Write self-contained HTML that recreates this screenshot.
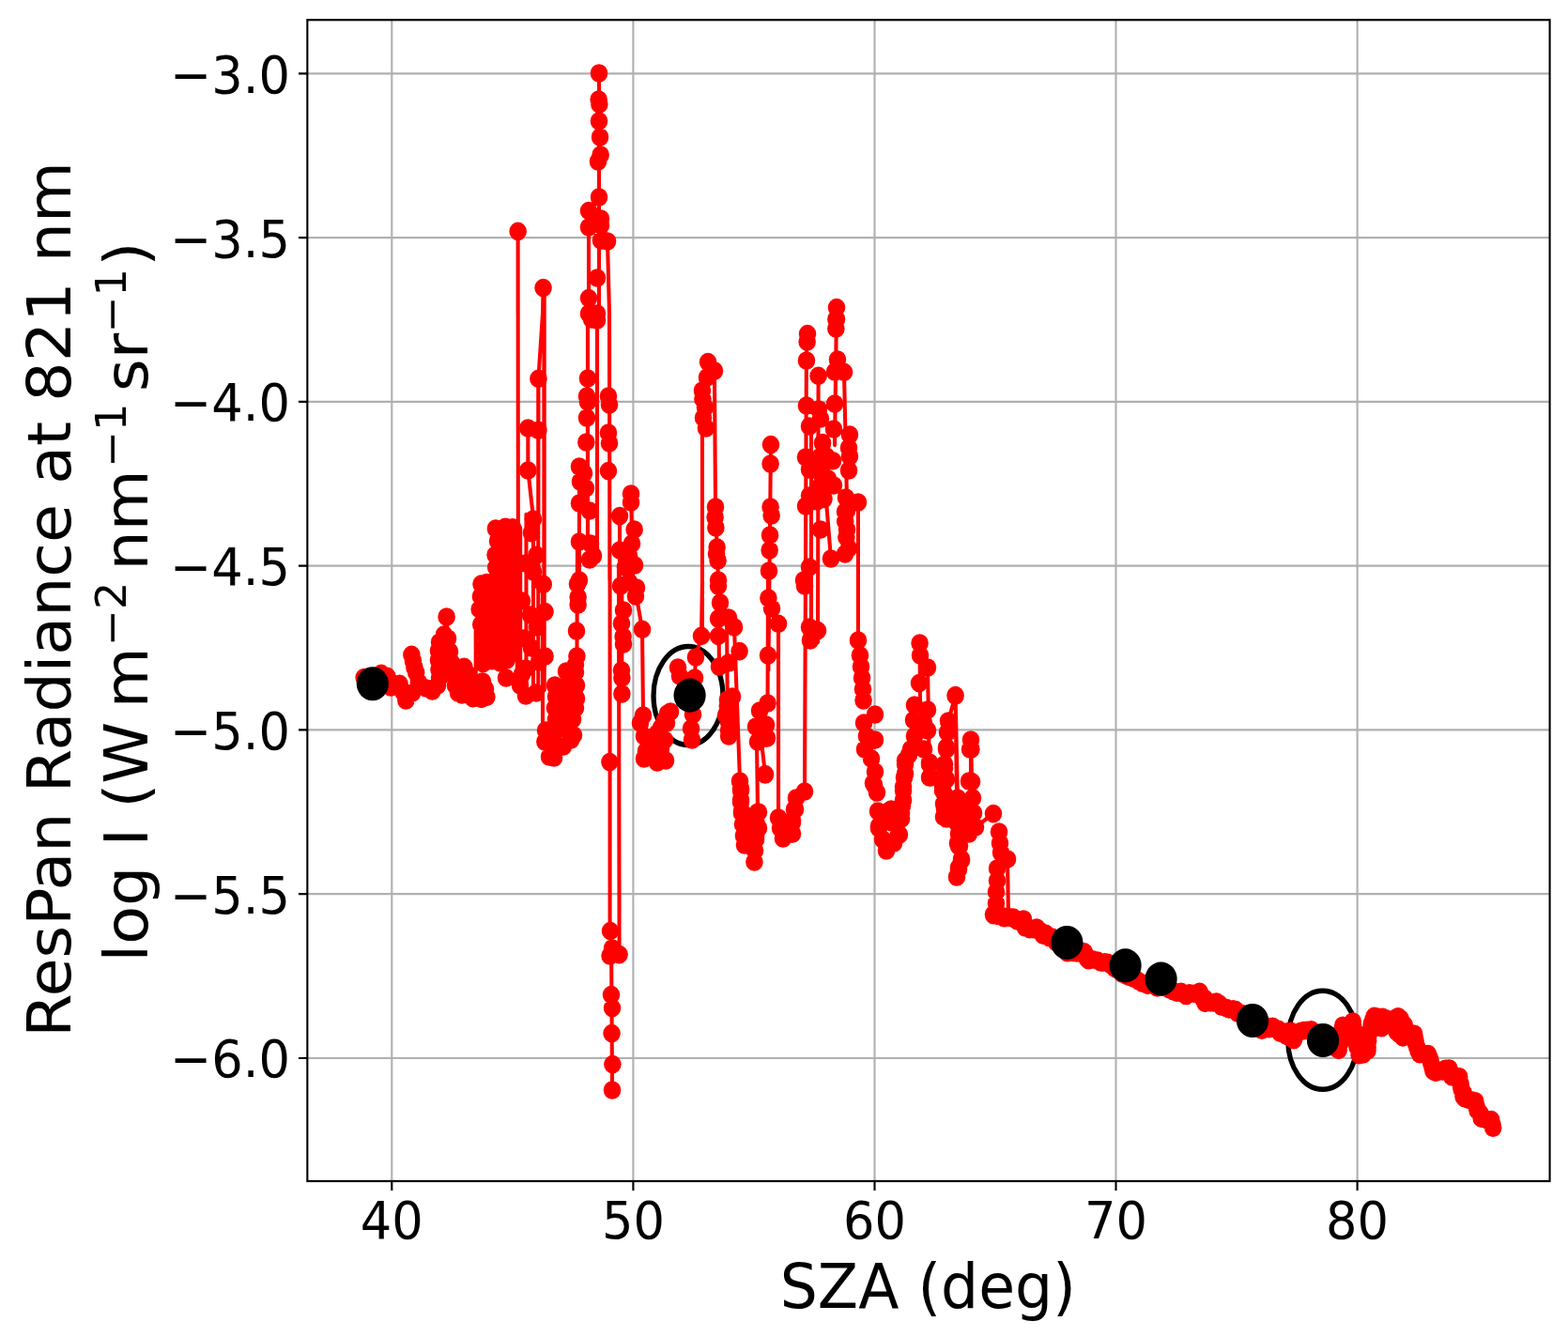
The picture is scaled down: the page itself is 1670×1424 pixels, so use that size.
<!DOCTYPE html>
<html lang="en"><head><meta charset="utf-8"><title>ResPan Radiance at 821 nm vs SZA</title>
<style>html,body{margin:0;padding:0;background:#fff;overflow:hidden}svg{display:block}</style></head>
<body>
<svg width="1670" height="1424" viewBox="0 0 1670 1424">
<rect width="1670" height="1424" fill="#fff"/>
<g transform="scale(0.948 1)">
<path d="M440.2 21.2V1258M711.4 21.2V1258M982.6 21.2V1258M1253.7 21.2V1258M1524.9 21.2V1258M345.3 78.3H1741M345.3 253.1H1741M345.3 427.9H1741M345.3 602.6H1741M345.3 777.4H1741M345.3 952.2H1741M345.3 1127H1741" stroke="#b0b0b0" stroke-width="2.22" fill="none"/>
<clipPath id="c"><rect x="345.3" y="21.2" width="1395.8" height="1236.8"/></clipPath>
<g clip-path="url(#c)">
<ellipse cx="773.2" cy="741" rx="39" ry="52.5" fill="none" stroke="#000" stroke-width="5.56"/>
<ellipse cx="1486" cy="1107.7" rx="39" ry="52.5" fill="none" stroke="#000" stroke-width="5.56"/>
<path d="M408.9 721.6L417.7 722L428.3 717.4L435 720.4L439.2 732L448.9 728.4L453.6 738L456.1 746L463.1 738L462.4 697.4L464.1 704L465.6 710.8L467.5 716.4L470.5 727L478.9 733L485.7 736L491.6 730L493.7 684L495.8 692L497.9 702L498.9 676L501.7 657L503.2 680L505.3 694L507.4 706L509.5 718L511.6 730L514.8 738L519 740L521.5 710.4L525.3 718L527.4 730L531.2 743.6L541.1 744.4L546.8 742.4M534.5 672L534.5 728M581 560L581 735M584.6 562L584.6 735M591.2 548L591.2 730M599.1 553L599.1 730M604.7 403L604.7 730M611.5 300L611.5 735M609.7 618L609.7 778M648.7 578L648.1 718M698.7 618L698.7 739M715.2 636L721.5 670.4L722.6 762M581.9 246.4L582.1 560M609.7 334L604.9 403.4L604.9 554M611.2 334L611.2 618M593.2 456L593.2 501L599.2 552M660.3 334L660.3 594M670.9 334L670.9 594M684.6 334L685 618M650.8 497L650.8 618M708.9 526L711 618M696.2 549.6L696.2 618M581.9 246.4L581.9 334M610.3 306.6L609.7 334M673 78L673 334M661.4 224.6L661.4 334M682.5 257L684.6 334M685.2 602L685.2 991.6M695.1 602L695.8 1016.6M686.7 991.6L687.8 1161M789 454L789 678M802.7 395L803.8 540M803.8 540L807 618M866 473.6L863.3 714M906.1 355.6L904 844M919.4 400.4L918.8 684M939.9 327.6L937.8 474M948.3 396.4L951.5 534M928.3 534L933.5 595M964.1 535L964.1 682M911.4 454L911.4 674M789 618L788 677.4L781.6 700L780.6 722M824.9 668L831.2 830M816.5 658L817.5 778M807 618L808 710M862.9 618L862.4 749M874.5 664.4L874.5 870M850.2 790L851.3 865M856.5 798L859.7 825M1033.3 685L1033.8 758M1042.2 711L1044.3 828M1065.4 768L1073.4 740.6L1075.9 852M1090.7 788L1090.7 832M1065.4 768L1073.4 741L1074.9 846M1091.1 798L1091.8 832.6M1096 881L1116 866.6M1131.9 915L1132.9 976M1117.1 974L1128.7 976L1137.1 977L1149.8 984L1164.6 992L1181.4 998L1202.5 1016L1215.2 1012L1223.6 1022L1232.1 1024L1244.7 1026L1272.2 1042L1282.7 1047L1318.6 1054L1333.3 1060L1348.1 1058L1354.4 1068L1367.1 1067L1373.4 1073L1388.2 1076L1417.7 1096L1432.5 1094L1438.8 1100L1449.4 1100M1417.7 1094L1432.5 1096L1440.9 1100L1453.6 1108L1457.8 1100L1472.6 1097L1504.2 1118L1508.4 1092L1512.7 1102L1520 1088L1523.2 1108L1527.4 1124L1535.9 1120L1538 1104L1541.1 1090L1544.3 1082L1557 1084L1552.7 1094L1570.7 1083L1578.1 1092L1569.6 1100L1575.9 1104L1588.6 1100L1590.7 1112L1594.9 1122L1604.4 1122L1607.6 1132L1609.7 1140L1612.9 1142L1627.6 1138L1630.8 1146L1639.2 1148L1641.4 1158L1645.6 1170L1657.2 1172L1660.3 1182L1664.6 1190L1675.1 1193L1677.2 1202" stroke="#f00" stroke-width="4.3" fill="none" stroke-linejoin="round" stroke-linecap="round"/>
<path d="M408.9 721.6h0M417.7 722h0M428.3 717.4h0M435 720.4h0M439.2 732h0M448.9 728.4h0M453.6 738h0M456.1 746h0M463.1 738h0M462.4 697.4h0M464.1 704h0M465.6 710.8h0M467.5 716.4h0M470.5 727h0M478.9 733h0M485.7 736h0M491.6 730h0M493.7 684h0M495.8 692h0M497.9 702h0M498.9 676h0M501.7 657h0M503.2 680h0M505.3 694h0M507.4 706h0M509.5 718h0M511.6 730h0M514.8 738h0M519 740h0M521.5 710.4h0M525.3 718h0M527.4 730h0M531.2 743.6h0M541.1 744.4h0M546.8 742.4h0M556.9 563h0M567.8 561.3h0M575.9 561.8h0M563 570.1h0M570.2 567.8h0M559.1 576.2h0M567.8 575h0M575.8 577.1h0M561.6 585h0M572.7 582.3h0M556.5 591h0M568.4 590.5h0M575.1 590.7h0M561 597.3h0M571.3 598.1h0M557.2 604.5h0M566.1 605.2h0M575.3 603.9h0M563.6 612.7h0M571.9 611.6h0M540.6 622.1h0M546.8 620.5h0M557.7 621.6h0M567.3 620.8h0M575.9 621.5h0M542.9 628.5h0M553.7 629.3h0M561.5 628.5h0M568.9 627.5h0M540 635.2h0M547 635.6h0M557.6 636h0M565.5 635.3h0M574.9 636.3h0M543.6 642.4h0M552.4 641.3h0M560 643.3h0M571.9 643h0M538.7 648.9h0M548 651.3h0M557.8 650h0M567.1 649.1h0M574.9 651.3h0M543.8 657h0M551.7 657.3h0M562.9 655.6h0M571.3 658.1h0M540.3 665.1h0M549 664.4h0M557.2 664.1h0M564.5 665.5h0M575.1 663.4h0M543.5 671.5h0M552 671.1h0M561.6 671.9h0M570.8 671.4h0M542.3 674.9h0M551.9 676.3h0M563.8 677.2h0M572.5 677.3h0M547.8 684.6h0M558.5 681.6h0M564.7 681.3h0M576.8 682.2h0M542.7 690.9h0M552.6 688.7h0M560.8 690.6h0M569.8 689.5h0M549.7 697.5h0M557 697.6h0M564.7 697.2h0M575.4 696.4h0M542.7 706.5h0M553.3 703.7h0M562.7 706.2h0M569.2 703h0M599.1 553h0M597 567.6h0M602.8 591.3h0M599.2 609h0M610.5 622.4h0M612.4 651.6h0M612.4 699h0M590.7 600h0M586.5 640h0M596 655h0M603.4 668h0M588.6 680h0M597 690h0M605.5 705h0M590.7 712h0M492.6 693h0M492.6 703h0M493.1 713h0M493.7 722h0M500 686h0M502.1 698h0M504.2 708h0M506.3 716h0M568.6 722h0M590.7 741h0M602.3 738h0M584.4 730h0M586.5 718h0M542.2 726h0M545.4 734h0M612.9 778h0M612.2 790h0M617.1 806h0M622.4 807h0M632.9 795h0M641.4 788h0M644.5 783h0M624.5 778h0M632.9 776h0M622.4 792h0M623.4 730h0M624.5 742h0M623.4 754h0M636.1 715h0M637.1 730h0M639.2 746h0M632.9 758h0M646.6 716h0M647.7 730h0M647.7 744h0M646.6 754h0M643.5 766h0M635 770h0M624.5 766h0M648.7 622h0M649.4 636h0M649.4 644h0M647.7 672h0M648.1 699h0M646.6 708h0M685 811.6h0M697.3 624h0M700.4 650h0M698.3 664h0M700 678h0M700.4 686h0M698.3 714h0M698.7 722h0M698.7 739h0M706.8 620h0M715.2 626h0M714.1 635h0M721.5 670.4h0M722.6 762h0M719.4 770h0M723.6 784h0M725.7 800h0M723.6 808h0M736.3 784h0M738.4 812h0M732.1 794h0M604.9 403.4h0M593.2 456h0M604.9 458.4h0M593.2 501h0M664.6 340h0M670.9 341h0M660.3 403h0M659.3 422h0M660.3 428h0M659.3 445h0M658.6 471h0M650.8 497h0M656.1 504h0M651.9 513h0M658.2 520h0M650.8 536h0M662.4 544h0M650.8 577h0M663.5 579h0M666.7 592h0M662.4 596h0M650.8 618h0M683.5 422h0M684.6 431h0M683.5 461h0M684.6 472h0M683.5 501.6h0M708.9 526h0M708.9 535h0M696.2 549.6h0M712.7 564h0M709.9 579h0M696.2 586h0M706.8 592h0M713.1 602h0M702.5 604h0M673 78h0M672.6 106h0M673.4 111h0M673 129h0M674.1 146h0M674.7 165h0M671.9 172h0M673 210h0M661.4 224.6h0M675.1 233h0M661.4 242h0M675.1 240h0M675.1 256h0M682.5 257h0M670.9 296h0M661.4 317.6h0M661.4 334h0M670.9 334h0M581.9 246.4h0M610.3 306.6h0M685.7 991.6h0M687.8 1010h0M685.2 1018h0M695.8 1016.6h0M686.7 1059.6h0M687.8 1073.6h0M687.3 1100.6h0M688.2 1133.6h0M687.8 1161h0M795.4 385.6h0M802.7 395h0M794.3 402h0M789 416h0M789.5 425h0M792.2 434h0M790.1 445h0M793.2 456h0M803.8 540h0M803.4 551h0M804.2 562h0M805.5 583h0M804.9 590h0M806.5 597h0M807 618h0M866 473.6h0M865.6 494h0M865.6 540h0M866.7 549h0M865 570h0M864.6 586h0M863.9 608h0M907.2 355.6h0M906.8 364h0M906.1 384h0M919.4 400.4h0M939.2 340h0M939.2 350h0M940.9 383h0M937.8 396h0M948.3 396.4h0M906.1 432h0M909.3 454h0M919.8 436h0M921.9 446h0M937.8 430h0M936.7 457h0M954.6 463h0M924.1 472h0M953.6 477h0M905.1 487h0M954.6 486h0M921.9 486h0M932.5 490h0M909.3 500h0M921.9 504h0M953.6 501h0M932.5 516h0M921.9 518h0M909.3 528h0M905.1 539h0M917.7 534h0M950.4 530h0M964.1 535h0M951.5 544h0M921.9 564h0M951.5 564h0M953.6 584h0M933.5 595h0M949.4 590h0M909.3 604h0M903 618h0M939.9 327.6h0M939.9 340h0M761.6 711h0M781.6 700h0M788 677.4h0M763.7 720h0M780.6 722h0M753.2 758h0M748.9 770h0M746.8 788h0M747.9 810h0M778.5 761h0M776.4 776h0M777.4 788h0M742.6 798h0M807 624h0M809.1 642h0M807 659h0M818.6 658h0M824.9 668h0M807 677.4h0M830.8 693.6h0M808 710h0M818.6 706h0M817.5 746h0M815.4 762h0M818.6 778h0M822.8 742h0M831.2 832h0M832.3 840h0M832.3 852h0M833.3 864h0M835.4 876h0M837.6 888h0M839.7 898h0M852.3 865h0M850.2 878h0M849.2 890h0M846 898h0M863.3 637h0M867.1 648h0M874.5 664.4h0M862.9 698h0M862.4 749h0M853.4 757h0M849.2 774h0M860.8 772h0M851.3 790h0M861.8 786h0M859.7 825h0M874.5 871h0M877.6 882h0M879.7 893h0M890.3 888h0M890.3 874h0M892.4 862h0M894.5 850h0M904 843h0M904 624h0M909.3 668h0M918.8 671.6h0M910.3 682h0M964.1 682h0M966.2 698h0M967.3 710h0M968.4 722h0M969.4 734h0M970 746h0M983.1 761h0M970.5 770h0M973.6 784h0M983.1 788h0M971.5 798h0M978.9 808h0M983.1 822h0M981 834h0M985.2 844h0M986.3 864h0M997.9 864h0M987.3 880h0M1002.1 876h0M1009.5 888h0M991.6 894h0M1004.2 898h0M1033.3 685h0M1033.8 698h0M1042.2 711h0M1032.7 727.6h0M1027.4 751h0M1042.2 756h0M1026.4 767h0M1038 770h0M1027.4 784h0M1042.2 778h0M1023.2 798h0M1016.9 810h0M1016.9 824h0M1014.8 838h0M1014.8 852h0M1012.7 866h0M1044.3 812h0M1044.3 828h0M1038 798h0M1073.4 740.6h0M1065.4 768h0M1064.3 780h0M1063.3 796h0M1061.2 818h0M1059.1 838h0M1061.2 858h0M1063.3 872h0M1075.9 852h0M1080.2 868h0M1090.7 788h0M1089.7 798h0M1090.7 832h0M1075.9 898h0M1088.6 888h0M832.3 842h0M832.3 854h0M833.3 866h0M834.4 878h0M835.4 890h0M836.5 900h0M847.5 918h0M848.1 906h0M849.2 894h0M852.3 882h0M851.3 865h0M843.9 870h0M841.8 886h0M859.7 824.6h0M876.6 882h0M880.8 890h0M890.3 876h0M893.5 862h0M884 882h0M982.1 836h0M987.3 882h0M995.8 906h0M993.7 896h0M1004.2 896h0M1010.5 889h0M1001.1 862h0M1012.7 872h0M1013.7 858h0M1014.8 842h0M1015.8 828h0M1016.9 814h0M1021.1 804h0M1044.3 814h0M1045.4 828h0M1059.1 842h0M1060.1 856h0M1061.2 870h0M1075.9 850h0M1078.1 862h0M1080.2 874h0M1081.2 886h0M1078.1 901h0M1080.2 916h0M1077 926h0M1074.9 934h0M1088.6 832h0M1090.7 852h0M1092.8 882h0M1073.4 741h0M1063.3 798h0M1061.2 814h0M1063.3 830h0M1061.2 846h0M1061.2 862h0M1060.1 870h0M1075.9 862h0M1074.9 876h0M1077 888h0M1077 901h0M1080.2 915h0M1077 924h0M1085.4 878h0M1091.1 798h0M1091.8 832.6h0M1092.8 850h0M1093.9 866h0M1096 881h0M1116 866.6h0M1122.4 886h0M1123.4 898h0M1124.5 908h0M1131.9 915h0M1120.3 925h0M1120.3 938h0M1119.2 950h0M1119.2 962h0M1116 974h0M1127.6 976h0M1138.2 977h0M1149.8 979h0M1151.9 988h0M1164.6 988h0M1175.1 996h0M1181.4 998h0M1116.4 974.8h0M1120.3 975.4h0M1125.2 975.5h0M1128.2 977.7h0M1133.5 976.6h0M1136.6 977.5h0M1140.1 979h0M1143.1 981h0M1145.8 981.5h0M1150.7 985.4h0M1153.1 987.3h0M1156.8 989.6h0M1161.3 989.7h0M1164.1 990.2h0M1168.7 991.5h0M1171.9 996.1h0M1174.8 994.4h0M1178.8 998.5h0M1181.8 998h0M1184.2 1000h0M1186.9 1003.8h0M1190.3 1004.6h0M1192.7 1008.9h0M1196.1 1010.9h0M1199.2 1014.8h0M1203.3 1014.3h0M1205.1 1014.4h0M1209.8 1015h0M1211.7 1012h0M1215.5 1013.2h0M1218.1 1013.9h0M1220.1 1017.7h0M1221.5 1021.2h0M1223.1 1022.8h0M1227.1 1021.8h0M1232.8 1023h0M1236.8 1025h0M1241.2 1024.9h0M1244.4 1025.2h0M1248.9 1028.4h0M1252.4 1031.4h0M1254.3 1032.2h0M1257.7 1032.3h0M1261.1 1037.3h0M1265.8 1039.2h0M1268.4 1040.4h0M1272.7 1041.6h0M1275.8 1042.7h0M1278.4 1044.5h0M1283.4 1047.2h0M1287.1 1047.5h0M1289.5 1049.4h0M1294.1 1047.3h0M1297.4 1048.3h0M1299.9 1051.9h0M1303.3 1050.3h0M1308.7 1051.6h0M1310.7 1051.4h0M1314.5 1054.2h0M1317.8 1055.5h0M1322 1057.2h0M1326.7 1056.3h0M1329.2 1058.4h0M1332.6 1060.5h0M1336.2 1057.7h0M1341.6 1058.3h0M1344.6 1058.3h0M1347.7 1056.4h0M1351 1063h0M1353.2 1063.3h0M1353.9 1068.4h0M1359.6 1067.8h0M1363.2 1067.9h0M1366.6 1067.1h0M1369.9 1069.1h0M1372.6 1072.2h0M1378 1073.6h0M1381.1 1075h0M1385.3 1074.9h0M1387.8 1075.4h0M1390.8 1079.2h0M1394.8 1079.3h0M1396.7 1082.2h0M1400.1 1084.3h0M1402.5 1084.3h0M1405.4 1086.5h0M1409 1088.5h0M1411 1092.5h0M1414.4 1095.1h0M1417.7 1097.3h0M1420.8 1095.5h0M1425.7 1093.5h0M1429.7 1093.3h0M1433 1095.7h0M1436.3 1096.4h0M1438.1 1100.1h0M1443.1 1099.3h0M1446.6 1098.7h0M1450.1 1098.3h0M1417.5 1095h0M1421.8 1095.5h0M1425.5 1095.6h0M1429 1094.7h0M1432.4 1095.2h0M1437 1098.4h0M1440.6 1099h0M1444.7 1102.7h0M1447.3 1104.1h0M1450.9 1105.9h0M1453.5 1107.6h0M1455.4 1102.9h0M1458 1099.8h0M1461.6 1098.2h0M1465 1097.6h0M1468.4 1097.2h0M1473 1096.8h0M1475.6 1099.4h0M1478.6 1100h0M1482.1 1103.3h0M1485.4 1105.3h0M1488.6 1108.1h0M1491.2 1109.6h0M1494.7 1111h0M1497.8 1113.9h0M1501.6 1116.9h0M1503.9 1118.4h0M1504.3 1113.3h0M1505.4 1111.5h0M1505.6 1107.5h0M1507.1 1102.7h0M1507.5 1100.3h0M1507.7 1096.2h0M1508.7 1092.2h0M1510.3 1096.3h0M1511.8 1098.8h0M1512.2 1101.4h0M1514.1 1098.7h0M1516.7 1093.9h0M1518.4 1092h0M1519.8 1088h0M1520.1 1091.9h0M1520.5 1095.8h0M1522 1098.3h0M1521.9 1102.3h0M1523.3 1103.8h0M1523.6 1108.8h0M1524.3 1111.7h0M1524.8 1115.4h0M1526.3 1117.3h0M1527 1120.6h0M1527 1123.6h0M1531.2 1123h0M1536.4 1119.1h0M1536.5 1115.8h0M1536.4 1111.5h0M1537.1 1108.6h0M1537.3 1103.3h0M1538.7 1099.4h0M1539.7 1097.3h0M1540.8 1092.8h0M1540.9 1090.1h0M1542.4 1086.2h0M1544 1082.4h0M1548.9 1083.4h0M1553.3 1083.4h0M1557 1084.9h0M1555.9 1087.5h0M1554 1090.1h0M1552.2 1094.7h0M1555.2 1092.8h0M1558.8 1091.4h0M1562 1089.6h0M1564.2 1086.7h0M1567.8 1084.4h0M1570.7 1082.7h0M1573.2 1084.8h0M1575.5 1088.9h0M1577.8 1091.8h0M1575.6 1095.1h0M1572.4 1097.7h0M1569.5 1099.3h0M1572.2 1101.5h0M1576.1 1104.9h0M1579.5 1103h0M1582.9 1101.9h0M1585.9 1100.8h0M1588.9 1101.2h0M1589.1 1103.2h0M1590.2 1108.1h0M1590.5 1110.8h0M1592 1115.2h0M1593.4 1119.5h0M1595 1122.6h0M1600.2 1122.6h0M1604.4 1122.6h0M1605.7 1125.7h0M1606.7 1128.4h0M1607.8 1132.3h0M1609.2 1136.7h0M1610.1 1140.6h0M1613.3 1142.3h0M1616.4 1140.4h0M1620.5 1140.9h0M1624 1138.2h0M1628.1 1138h0M1629.2 1140.9h0M1630.8 1146.6h0M1634.9 1146.7h0M1639.4 1146.8h0M1640 1152.4h0M1640.9 1154.4h0M1641.6 1158.3h0M1642 1160.3h0M1643.9 1163.4h0M1644 1167.8h0M1645.6 1169.7h0M1649.5 1171.2h0M1652.9 1171.7h0M1657.4 1172.8h0M1657.9 1175.6h0M1658.9 1178.8h0M1659.9 1182.7h0M1662.9 1185.6h0M1664.2 1191.1h0M1668.3 1191.8h0M1671 1193h0M1675.3 1192.6h0M1675.7 1196.6h0M1676.9 1198.3h0M1677.4 1201.2h0M924.1 471.6h0M928.3 486h0M935.7 490.8h0M923 500h0M930.4 510h0M936.7 517h0M919.3 519.5h0M925.6 531.5h0M949.6 555.4h0M950.8 572.2h0M949.4 545h0M817.3 752h0M818.7 760h0M818.7 769.4h0M820.1 778.7h0M818.7 784h0M817.5 745h0M750 760h0M746.8 767h0M742.6 775h0M738.4 781h0" stroke="#f00" stroke-width="19.6" stroke-linecap="round" fill="none"/>
<path d="M418.6 728.2h0M774.9 740.6h0M1198.7 1004h0M1264.3 1028.4h0M1304.4 1042.6h0M1407.2 1087h0M1486.3 1108h0" stroke="#000" stroke-width="36.1" stroke-linecap="round" fill="none"/>
</g>
<rect x="345.3" y="21.2" width="1395.8" height="1236.8" fill="none" stroke="#000" stroke-width="2.22" stroke-linejoin="miter"/>
<path d="M440.2 1258v9.9M711.4 1258v9.9M982.6 1258v9.9M1253.7 1258v9.9M1524.9 1258v9.9M345.3 78.3h-9.9M345.3 253.1h-9.9M345.3 427.9h-9.9M345.3 602.6h-9.9M345.3 777.4h-9.9M345.3 952.2h-9.9M345.3 1127h-9.9" stroke="#000" stroke-width="2.22" fill="none"/>
<g font-family="'DejaVu Sans', 'Liberation Sans', sans-serif" fill="#000">
<text x="440.2" y="1319.0" font-size="55.56" text-anchor="middle">40</text>
<text x="711.4" y="1319.0" font-size="55.56" text-anchor="middle">50</text>
<text x="982.6" y="1319.0" font-size="55.56" text-anchor="middle">60</text>
<text x="1253.7" y="1319.0" font-size="55.56" text-anchor="middle">70</text>
<text x="1524.9" y="1319.0" font-size="55.56" text-anchor="middle">80</text>
<text x="325.9" y="98.8" font-size="55.56" text-anchor="end">−3.0</text>
<text x="325.9" y="273.6" font-size="55.56" text-anchor="end">−3.5</text>
<text x="325.9" y="448.4" font-size="55.56" text-anchor="end">−4.0</text>
<text x="325.9" y="623.1" font-size="55.56" text-anchor="end">−4.5</text>
<text x="325.9" y="797.9" font-size="55.56" text-anchor="end">−5.0</text>
<text x="325.9" y="972.7" font-size="55.56" text-anchor="end">−5.5</text>
<text x="325.9" y="1147.5" font-size="55.56" text-anchor="end">−6.0</text>
<text x="1042.5" y="1393.5" font-size="66.67" text-anchor="middle">SZA (deg)</text>
<text transform="translate(79.3 638.4) rotate(-90)" font-size="66.67" text-anchor="middle">ResPan Radiance at 821 nm</text>
<text transform="translate(165.5 1018.1) rotate(-90)" font-size="66.67"><tspan x="-6.3" y="0">log I (W</tspan><tspan x="263.9" y="0">m</tspan><tspan x="329.7" y="-24.4" font-size="46.7">−2</tspan><tspan x="410.5" y="0">nm</tspan><tspan x="519.8" y="-24.4" font-size="46.7">−1</tspan><tspan x="601.2" y="0">sr</tspan><tspan x="663.3" y="-24.4" font-size="46.7">−1</tspan><tspan x="734.6" y="0">)</tspan></text>
</g>
</g>
</svg>
</body></html>
